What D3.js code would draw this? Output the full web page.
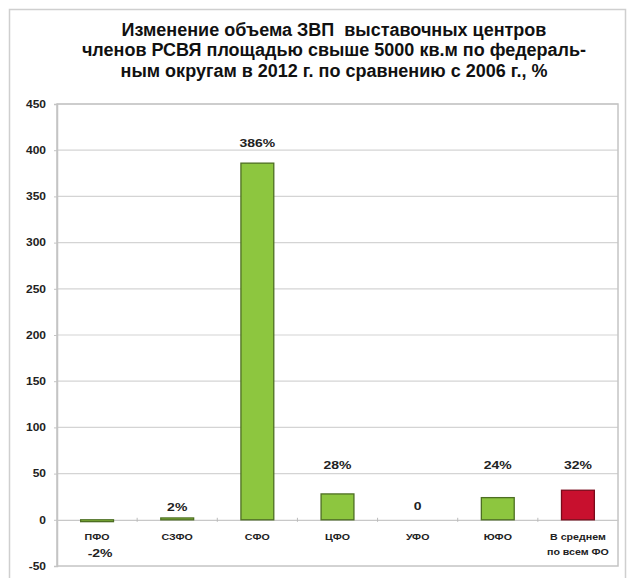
<!DOCTYPE html>
<html><head><meta charset="utf-8">
<script src="https://cdn.jsdelivr.net/npm/d3@7"></script>
<style>
html,body{margin:0;padding:0;background:#fff;}
svg{display:block;font-family:"Liberation Sans",Arial,sans-serif;}
text{white-space:pre;}
</style></head>
<body>
<svg id="chart" width="635" height="578"></svg>
<script>
const categories = ["ПФО", "СЗФО", "СФО", "ЦФО", "УФО", "ЮФО", "В среднем\nпо всем ФО"];
const values = [-2, 2, 386, 28, 0, 24, 32];
const valueLabels = ["-2%", "2%", "386%", "28%", "0", "24%", "32%"];
const isAverage = [false, false, false, false, false, false, true];
const yTicks = [-50, 0, 50, 100, 150, 200, 250, 300, 350, 400, 450];
const titleLines = [
  "Изменение объема ЗВП  выставочных центров",
  "членов РСВЯ площадью свыше 5000 кв.м по федераль-",
  "ным округам в 2012 г. по сравнению с 2006 г., %"
];

const svg = d3.select("#chart");
const pLeft = 57, pRight = 618, pTop = 104, pBottom = 566;

// outer frame
svg.append("rect").attr("x", 9.5).attr("y", 9.5).attr("width", 616).attr("height", 600)
  .attr("fill", "none").attr("stroke", "#cfcfcf").attr("stroke-width", 1.5);

// title
svg.append("g").selectAll("text").data(titleLines).join("text")
  .attr("x", 334).attr("y", (d, i) => 35.5 + i * 20.5)
  .attr("text-anchor", "middle").attr("font-weight", "bold").attr("font-size", 18)
  .attr("fill", "#111").text(d => d);

const x = d3.scaleBand().domain(categories).range([pLeft, pRight]).paddingInner(0.59).paddingOuter(0.295);
const xOuter = d3.scaleBand().domain(categories).range([pLeft, pRight]);
const y = d3.scaleLinear().domain([-50, 450]).range([pBottom, pTop]);

// gridlines
svg.append("g").selectAll("line").data(yTicks.filter(t => t !== 0 && t !== -50)).join("line")
  .attr("x1", pLeft).attr("x2", pRight).attr("y1", d => y(d)).attr("y2", d => y(d))
  .attr("stroke", "#d4d4d4").attr("stroke-width", 1.2);

// plot frame
svg.append("rect").attr("x", pLeft).attr("y", pTop).attr("width", pRight - pLeft).attr("height", pBottom - pTop)
  .attr("fill", "none").attr("stroke", "#c4c4c4").attr("stroke-width", 1.5);

// y axis
const yAxis = d3.axisLeft(y).tickValues(yTicks).tickSize(3).tickPadding(8).tickFormat(d => d);
const gy = svg.append("g").attr("transform", `translate(${pLeft},0)`).call(yAxis);
gy.select(".domain").attr("stroke", "#c4c4c4").attr("stroke-width", 1.5);
gy.selectAll(".tick line").attr("stroke", "#c4c4c4");
gy.selectAll(".tick text")
  .attr("font-size", 10).attr("font-weight", "bold").attr("fill", "#222")
  .attr("font-family", "'Liberation Sans',Arial,sans-serif")
  .each(function () {
    const t = d3.select(this);
    const tx = +t.attr("x");
    t.attr("x", null).attr("transform", `translate(${tx},0) scale(1.2,1)`);
  });

// zero line with category ticks
const xAxis = d3.axisBottom(xOuter).tickSize(0).tickFormat("");
const gx = svg.append("g").attr("transform", `translate(0,${y(0)})`).call(xAxis);
gx.select(".domain").attr("stroke", "#c8c8c8").attr("stroke-width", 1.2);
svg.append("g").selectAll("line").data(categories.slice(1)).join("line")
  .attr("x1", d => xOuter(d)).attr("x2", d => xOuter(d))
  .attr("y1", y(0) - 2).attr("y2", y(0) + 2).attr("stroke", "#bbb");

// bars
svg.append("g").selectAll("rect").data(values.map((v, i) => ({v, c: categories[i], avg: isAverage[i]})))
  .join("rect")
  .attr("x", d => x(d.c)).attr("width", x.bandwidth())
  .attr("y", d => y(Math.max(d.v, 0)))
  .attr("height", d => Math.max(Math.abs(y(d.v) - y(0)), d.v === 0 ? 0 : 1.5))
  .attr("fill", d => d.avg ? "#c8102e" : "#8dc63f")
  .attr("stroke", d => d.avg ? "#7a0a1a" : "#4d6e22")
  .attr("stroke-width", d => d.v === 0 ? 0 : 1.3);

// category labels
const catG = svg.append("g");
categories.forEach(c => {
  const lines = c.split("\n");
  lines.forEach((ln, j) => {
    const cx = xOuter(c) + xOuter.bandwidth() / 2;
    catG.append("text").attr("transform", `translate(${cx},${540 + j * 14.5}) scale(1.25,1)`)
      .attr("text-anchor", "middle").attr("font-size", 8.5).attr("font-weight", "bold")
      .attr("fill", "#222").text(ln);
  });
});

// value labels
function labelY(v) {
  if (v < 0) return 557;
  if (v === 0) return y(0) - 10;
  if (v > 100) return y(v) - 16;
  if (v > 10) return y(62) + 6;
  return y(v) - 7;
}
svg.append("g").selectAll("text").data(values.map((v, i) => ({v, c: categories[i], t: valueLabels[i]})))
  .join("text")
  .attr("transform", d => `translate(${xOuter(d.c) + xOuter.bandwidth() / 2 + (d.v < 0 ? 3 : 0)},${labelY(d.v)}) scale(1.4,1)`)
  .attr("text-anchor", "middle").attr("font-size", 10).attr("font-weight", "bold")
  .attr("fill", "#222").text(d => d.t);
</script>
</body></html>
